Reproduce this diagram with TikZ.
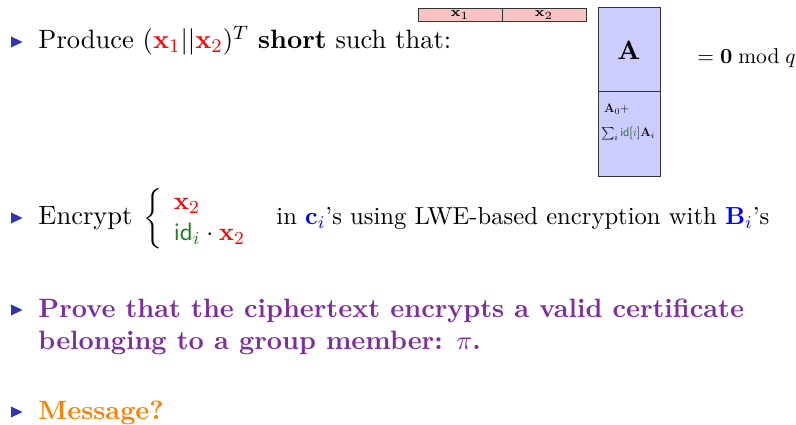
\RequirePackage{fix-cm}
\documentclass[tikz,11pt,border=0pt]{standalone}
\usepackage{amsmath}
\usepackage{amssymb}
\definecolor{bulletblue}{rgb}{0.2,0.2,0.7}
\definecolor{vecred}{rgb}{1,0,0}
\definecolor{idgreen}{rgb}{0.1,0.5,0.1}
\definecolor{purpletext}{RGB}{125,45,160}
\definecolor{orangetext}{RGB}{255,128,0}
\definecolor{rowfill}{RGB}{250,195,195}
\definecolor{matfill}{RGB}{204,204,255}
\newcommand{\vx}[1]{\textcolor{vecred}{\mathbf{x}_{#1}}}
\newcommand{\idtxt}{\textcolor{idgreen}{\textsf{id}}}
\begin{document}
\begin{tikzpicture}[x=1pt,y=-1pt,
  bigtext/.style={anchor=base west,inner sep=0pt,scale=2.42,font=\normalsize},
  smalltext/.style={inner sep=0pt,font=\fontsize{12.5}{14}\selectfont},
  bullet/.style={fill=bulletblue,draw=none},
  cell/.style={draw=black!80,line width=0.6pt}]
\useasboundingbox (0,0) rectangle (796,425);

% bullets
\foreach \n/\y in {b1/42,b2/218,b3/310,b4/412}{
  \fill[bullet] (11,\y-5.5) -- (22.5,\y) -- (11,\y+5.5) -- cycle;
}

% item 1
\node[bigtext] (produce) at (38,49) {Produce $(\vx1||\vx2)^T$ \textbf{short} such that:};

% row vector (x1 || x2)
\filldraw[cell,fill=rowfill] (418,8) rectangle (586,21);
\draw[cell] (502,8) -- (502,21);
\node[inner sep=0pt,scale=2.2,font=\tiny] (rx1) at (460,15) {$\mathbf{x}_1$};
\node[inner sep=0pt,scale=2.2,font=\tiny] (rx2) at (544,15) {$\mathbf{x}_2$};

% matrix block
\filldraw[cell,fill=matfill] (598,7) rectangle (660,176);
\draw[cell] (598,91) -- (660,91);
\node[inner sep=0pt,scale=2.42,font=\normalsize] (Amat) at (629,50) {$\mathbf{A}$};
\node[smalltext,anchor=base west] (A0) at (604,113) {$\mathbf{A}_0+$};
\node[smalltext] (sumA) at (628,134) {$\sum_i\idtxt[\textcolor{idgreen}{i}]\mathbf{A}_i$};

\node[bigtext,scale=0.81] (modq) at (697,64) {$=\mathbf{0}\bmod q$};

% item 2
\node[bigtext] (encrypt) at (38,225) {Encrypt};
\node[inner sep=0pt,scale=2.3,font=\normalsize,anchor=west] (cases) at (143,219)
  {$\left\{\begin{array}{l}\vx2\\ \idtxt_{\textcolor{idgreen}{i}}\cdot\vx2\end{array}\right.$};
\node[bigtext,scale=0.93] (inci) at (276,225) {in $\textcolor{blue}{\mathbf{c}_i}$'s using LWE-based encryption with $\textcolor{blue}{\mathbf{B}_i}$'s};

% item 3
\node[bigtext,text=purpletext,font=\normalsize\bfseries] (prove) at (38,317) {Prove that the ciphertext encrypts a valid certificate};
\node[bigtext,text=purpletext,font=\normalsize\bfseries] (belong) at (38,349) {belonging to a group member: $\pi$.};

% item 4
\node[bigtext,text=orangetext,font=\normalsize\bfseries] (msg) at (38,419) {Message?};
\end{tikzpicture}
\end{document}
